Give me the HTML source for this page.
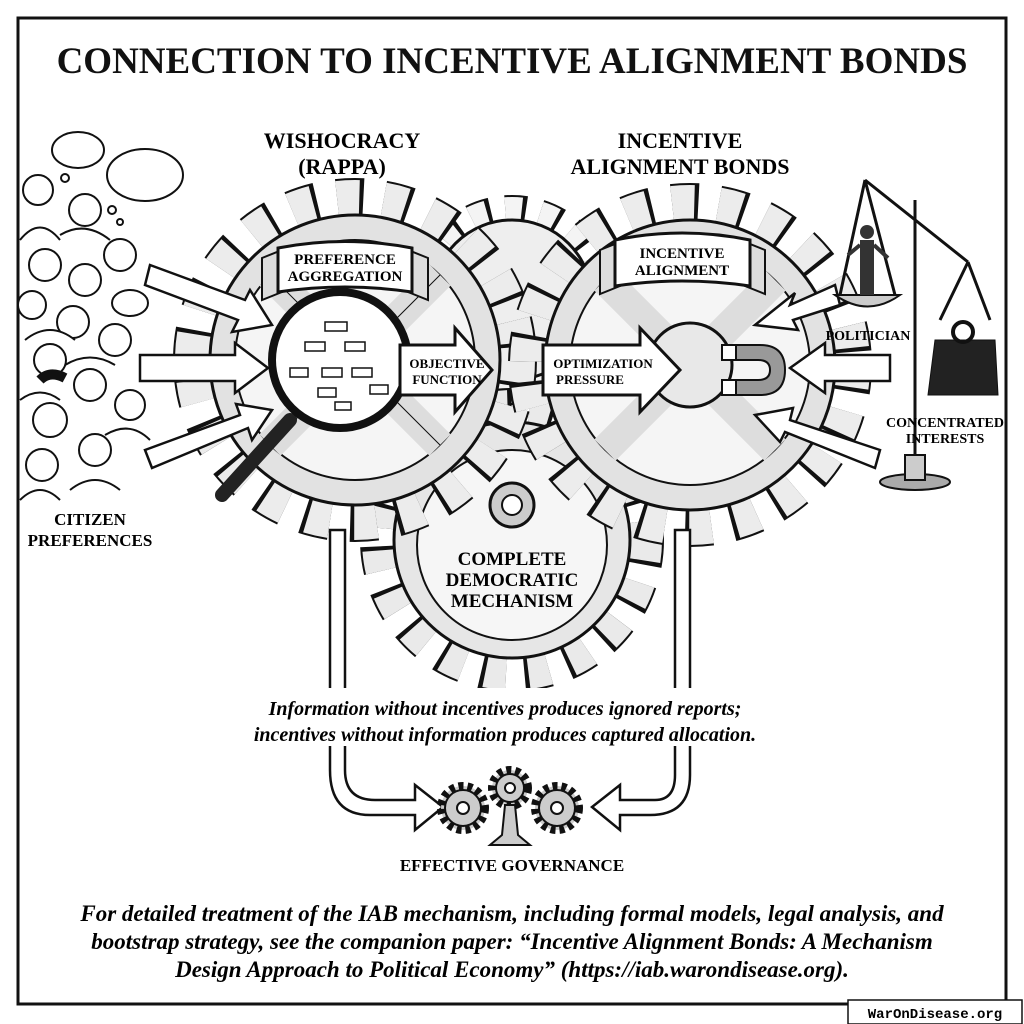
<!DOCTYPE html>
<html><head><meta charset="utf-8"><style>
body{margin:0;background:#fff;}
svg{display:block}
.s{font-family:"Liberation Serif",serif;}
</style></head><body>
<svg width="1024" height="1024" viewBox="0 0 1024 1024" xmlns="http://www.w3.org/2000/svg">
<rect x="0" y="0" width="1024" height="1024" fill="#fff"/>
<rect x="18" y="18" width="988" height="986" fill="none" stroke="#111" stroke-width="3"/>
<text x="512" y="73" text-anchor="middle" class="s" font-size="37" font-weight="bold" fill="#111">CONNECTION TO INCENTIVE ALIGNMENT BONDS</text>

<!-- top back gear -->
<g>
<circle cx="512" cy="300" r="88" fill="none" stroke="#111" stroke-width="34" stroke-dasharray="20 14"/>
<circle cx="512" cy="300" r="88" fill="none" stroke="#f4f4f4" stroke-width="30" stroke-dasharray="16 18"/>
<circle cx="512" cy="300" r="80" fill="#eee" stroke="#111" stroke-width="3"/>
</g>
<!-- bottom gear -->
<g>
<circle cx="512" cy="540" r="130" fill="none" stroke="#111" stroke-width="44" stroke-dasharray="24 18"/>
<circle cx="512" cy="540" r="130" fill="none" stroke="#eaeaea" stroke-width="40" stroke-dasharray="20 22"/>
<circle cx="512" cy="540" r="118" fill="#e6e6e6" stroke="#111" stroke-width="3"/>
<circle cx="512" cy="545" r="95" fill="#f6f6f6" stroke="#111" stroke-width="2"/>
<circle cx="512" cy="505" r="22" fill="#ccc" stroke="#111" stroke-width="3"/>
<circle cx="512" cy="505" r="10" fill="#fff" stroke="#111" stroke-width="2"/>
<text x="512" y="565" text-anchor="middle" class="s" font-size="19" font-weight="bold">COMPLETE</text>
<text x="512" y="586" text-anchor="middle" class="s" font-size="19" font-weight="bold">DEMOCRATIC</text>
<text x="512" y="607" text-anchor="middle" class="s" font-size="19" font-weight="bold">MECHANISM</text>
</g>
<!-- left gear -->
<g>
<circle cx="355" cy="360" r="160" fill="none" stroke="#111" stroke-width="44" stroke-dasharray="26 20"/>
<circle cx="355" cy="360" r="160" fill="none" stroke="#ececec" stroke-width="40" stroke-dasharray="22 24"/>
<circle cx="355" cy="360" r="145" fill="#e2e2e2" stroke="#111" stroke-width="3"/>
<circle cx="355" cy="360" r="120" fill="#f5f5f5" stroke="#111" stroke-width="2"/>
<path d="M270 275 L440 445 M440 275 L270 445" stroke="#ddd" stroke-width="30"/>
<path d="M270 275 L440 445 M440 275 L270 445" stroke="#111" stroke-width="1" fill="none"/>
</g>
<!-- right gear -->
<g>
<circle cx="690" cy="365" r="160" fill="none" stroke="#111" stroke-width="44" stroke-dasharray="26 20"/>
<circle cx="690" cy="365" r="160" fill="none" stroke="#ececec" stroke-width="40" stroke-dasharray="22 24"/>
<circle cx="690" cy="365" r="145" fill="#e2e2e2" stroke="#111" stroke-width="3"/>
<circle cx="690" cy="365" r="120" fill="#f5f5f5" stroke="#111" stroke-width="2"/>
<path d="M605 280 L775 450 M775 280 L605 450" stroke="#ddd" stroke-width="30"/>
<circle cx="690" cy="365" r="42" fill="#e8e8e8" stroke="#111" stroke-width="3"/>
</g>
<!-- magnifier -->
<line x1="290" y1="420" x2="222" y2="495" stroke="#222" stroke-width="14" stroke-linecap="round"/>
<circle cx="340" cy="360" r="68" fill="#fff" stroke="#111" stroke-width="8"/>
<g stroke="#111" fill="#fff" stroke-width="1.5">
<rect x="325" y="322" width="22" height="9"/><rect x="305" y="342" width="20" height="9"/><rect x="345" y="342" width="20" height="9"/>
<rect x="290" y="368" width="18" height="9"/><rect x="322" y="368" width="20" height="9"/><rect x="352" y="368" width="20" height="9"/><rect x="370" y="385" width="18" height="9"/>
<rect x="318" y="388" width="18" height="9"/><rect x="335" y="402" width="16" height="8"/>
</g>
<!-- banners -->
<path d="M262 258 L282 250 L282 292 L262 300 Z M428 258 L408 250 L408 292 L428 300Z" fill="#ddd" stroke="#111" stroke-width="2"/>
<path d="M278 248 Q345 235 412 248 L412 292 Q345 282 278 292 Z" fill="#fff" stroke="#111" stroke-width="3"/>
<text x="345" y="264" text-anchor="middle" class="s" font-size="15" font-weight="bold">PREFERENCE</text>
<text x="345" y="281" text-anchor="middle" class="s" font-size="15" font-weight="bold">AGGREGATION</text>
<path d="M600 250 L620 242 L620 286 L600 294 Z M765 250 L745 242 L745 286 L765 294Z" fill="#ddd" stroke="#111" stroke-width="2"/>
<path d="M615 240 Q682 226 750 240 L750 286 Q682 276 615 286 Z" fill="#fff" stroke="#111" stroke-width="3"/>
<text x="682" y="258" text-anchor="middle" class="s" font-size="15" font-weight="bold">INCENTIVE</text>
<text x="682" y="275" text-anchor="middle" class="s" font-size="15" font-weight="bold">ALIGNMENT</text>
<!-- big arrows -->
<path d="M400 345 L455 345 L455 328 L492 370 L455 412 L455 395 L400 395Z" fill="#fff" stroke="#111" stroke-width="3"/>
<text x="447" y="368" text-anchor="middle" class="s" font-size="13" font-weight="bold">OBJECTIVE</text>
<text x="447" y="384" text-anchor="middle" class="s" font-size="13" font-weight="bold">FUNCTION</text>
<path d="M543 345 L640 345 L640 328 L680 370 L640 412 L640 395 L543 395Z" fill="#fff" stroke="#111" stroke-width="3"/>
<text x="603" y="368" text-anchor="middle" class="s" font-size="13" font-weight="bold">OPTIMIZATION</text>
<text x="590" y="384" text-anchor="middle" class="s" font-size="13" font-weight="bold">PRESSURE</text>
<!-- magnet -->
<path d="M735 345 L760 345 Q785 345 785 370 Q785 395 760 395 L735 395 L735 380 L758 380 Q770 380 770 370 Q770 360 758 360 L735 360Z" fill="#999" stroke="#111" stroke-width="2"/>
<rect x="722" y="345" width="14" height="15" fill="#fff" stroke="#111" stroke-width="2"/>
<rect x="722" y="380" width="14" height="15" fill="#fff" stroke="#111" stroke-width="2"/>
<!-- left input arrows -->
<g fill="#fff" stroke="#111" stroke-width="2.5">
<path d="M150 265 L245 300 L250 290 L272 325 L232 332 L238 320 L145 285Z"/>
<path d="M140 355 L235 355 L235 343 L268 368 L235 393 L235 381 L140 381Z"/>
<path d="M145 450 L240 415 L236 404 L272 410 L252 440 L248 428 L152 468Z"/>
</g>
<!-- right input arrows -->
<g fill="#fff" stroke="#111" stroke-width="2.5">
<path d="M835 285 L790 305 L795 293 L755 325 L798 330 L793 320 L840 305Z"/>
<path d="M890 355 L825 355 L825 343 L790 368 L825 393 L825 381 L890 381Z"/>
<path d="M880 450 L790 420 L793 408 L755 415 L780 442 L785 432 L875 468Z"/>
</g>
<!-- people -->
<g fill="#fff" stroke="#111" stroke-width="2">
<circle cx="38" cy="190" r="15"/><circle cx="85" cy="210" r="16"/><circle cx="120" cy="255" r="16"/>
<circle cx="45" cy="265" r="16"/><circle cx="85" cy="280" r="16"/><circle cx="32" cy="305" r="14"/>
<circle cx="73" cy="322" r="16"/><circle cx="115" cy="340" r="16"/><circle cx="50" cy="360" r="16"/>
<circle cx="90" cy="385" r="16"/><circle cx="130" cy="405" r="15"/><circle cx="50" cy="420" r="17"/>
<circle cx="95" cy="450" r="16"/><circle cx="42" cy="465" r="16"/>
<path d="M20 240 Q40 215 60 240 M60 235 Q85 220 110 240 M25 340 Q50 320 75 340 M65 365 Q90 350 115 365 M20 400 Q40 385 60 400 M70 490 Q95 470 120 490 M20 500 Q40 480 60 500 M105 435 Q130 420 150 440"/>
</g>
<path d="M40 380 Q50 370 65 378" stroke="#111" stroke-width="10" fill="none"/>
<g fill="#fff" stroke="#111" stroke-width="2">
<ellipse cx="78" cy="150" rx="26" ry="18"/><ellipse cx="145" cy="175" rx="38" ry="26"/><ellipse cx="130" cy="303" rx="18" ry="13"/>
<circle cx="65" cy="178" r="4"/><circle cx="112" cy="210" r="4"/><circle cx="120" cy="222" r="3"/>
</g>
<text x="90" y="525" text-anchor="middle" class="s" font-size="17" font-weight="bold">CITIZEN</text>
<text x="90" y="546" text-anchor="middle" class="s" font-size="17" font-weight="bold">PREFERENCES</text>
<!-- scales -->
<g stroke="#111" stroke-width="3" fill="none">
<line x1="915" y1="200" x2="915" y2="465"/>
<line x1="865" y1="180" x2="968" y2="262"/>
<path d="M865 180 L840 295 M865 180 L895 295"/>
<path d="M968 262 L940 320 M968 262 L990 320"/>
</g>
<path d="M835 295 Q868 318 900 295Z" fill="#ccc" stroke="#111" stroke-width="2"/>
<rect x="860" y="240" width="14" height="55" fill="#333"/><circle cx="867" cy="232" r="7" fill="#333"/>
<path d="M848 255 L860 245 M874 245 L888 258" stroke="#333" stroke-width="4"/>
<path d="M935 340 L995 340 L998 395 L928 395Z" fill="#222" stroke="#111"/>
<circle cx="963" cy="332" r="10" fill="none" stroke="#111" stroke-width="4"/>
<ellipse cx="915" cy="482" rx="35" ry="8" fill="#aaa" stroke="#111" stroke-width="2"/>
<rect x="905" y="455" width="20" height="25" fill="#ccc" stroke="#111" stroke-width="2"/>
<text x="868" y="340" text-anchor="middle" class="s" font-size="14" font-weight="bold">POLITICIAN</text>
<text x="945" y="427" text-anchor="middle" class="s" font-size="14" font-weight="bold">CONCENTRATED</text>
<text x="945" y="443" text-anchor="middle" class="s" font-size="14" font-weight="bold">INTERESTS</text>
<!-- headers -->
<text x="342" y="148" text-anchor="middle" class="s" font-size="22" font-weight="bold">WISHOCRACY</text>
<text x="342" y="174" text-anchor="middle" class="s" font-size="22" font-weight="bold">(RAPPA)</text>
<text x="680" y="148" text-anchor="middle" class="s" font-size="22" font-weight="bold">INCENTIVE</text>
<text x="680" y="174" text-anchor="middle" class="s" font-size="22" font-weight="bold">ALIGNMENT BONDS</text>
<!-- vertical pipes -->
<g fill="#fff" stroke="#111" stroke-width="2.5">
<path d="M330 530 L330 770 Q330 800 360 800 L400 800 L400 785 L428 807 L400 830 L400 815 L355 815 Q315 815 315 770 L315 530Z" transform="translate(15,0)"/>
<path d="M690 530 L690 775 Q690 815 650 815 L620 815 L620 830 L592 807 L620 785 L620 800 L655 800 Q675 800 675 775 L675 530Z"/>
</g>
<rect x="255" y="688" width="515" height="58" fill="#fff"/>
<text x="505" y="715" text-anchor="middle" class="s" font-size="20" font-weight="bold" font-style="italic">Information without incentives produces ignored reports;</text>
<text x="505" y="741" text-anchor="middle" class="s" font-size="20" font-weight="bold" font-style="italic">incentives without information produces captured allocation.</text>
<!-- small gears -->
<g fill="#ccc" stroke="#111" stroke-width="2">
<circle cx="463" cy="808" r="22" stroke-dasharray="5 4" stroke-width="8"/><circle cx="463" cy="808" r="18"/><circle cx="463" cy="808" r="6" fill="#fff"/>
<circle cx="557" cy="808" r="22" stroke-dasharray="5 4" stroke-width="8"/><circle cx="557" cy="808" r="18"/><circle cx="557" cy="808" r="6" fill="#fff"/>
<circle cx="510" cy="788" r="18" stroke-dasharray="5 4" stroke-width="8"/><circle cx="510" cy="788" r="14"/><circle cx="510" cy="788" r="5" fill="#fff"/>
<path d="M505 805 L515 805 L518 835 L530 845 L490 845 L502 835Z"/>
</g>
<text x="512" y="871" text-anchor="middle" class="s" font-size="17" font-weight="bold">EFFECTIVE GOVERNANCE</text>
<text x="512" y="921" text-anchor="middle" class="s" font-size="23" font-weight="bold" font-style="italic">For detailed treatment of the IAB mechanism, including formal models, legal analysis, and</text>
<text x="512" y="949" text-anchor="middle" class="s" font-size="23" font-weight="bold" font-style="italic">bootstrap strategy, see the companion paper: “Incentive Alignment Bonds: A Mechanism</text>
<text x="512" y="977" text-anchor="middle" class="s" font-size="23" font-weight="bold" font-style="italic">Design Approach to Political Economy” (https://iab.warondisease.org).</text>
<rect x="848" y="1000" width="174" height="24" fill="#fff" stroke="#111" stroke-width="1.5"/>
<text x="935" y="1018" text-anchor="middle" font-family="Liberation Mono, monospace" font-size="14" font-weight="bold">WarOnDisease.org</text>
</svg>
</body></html>
